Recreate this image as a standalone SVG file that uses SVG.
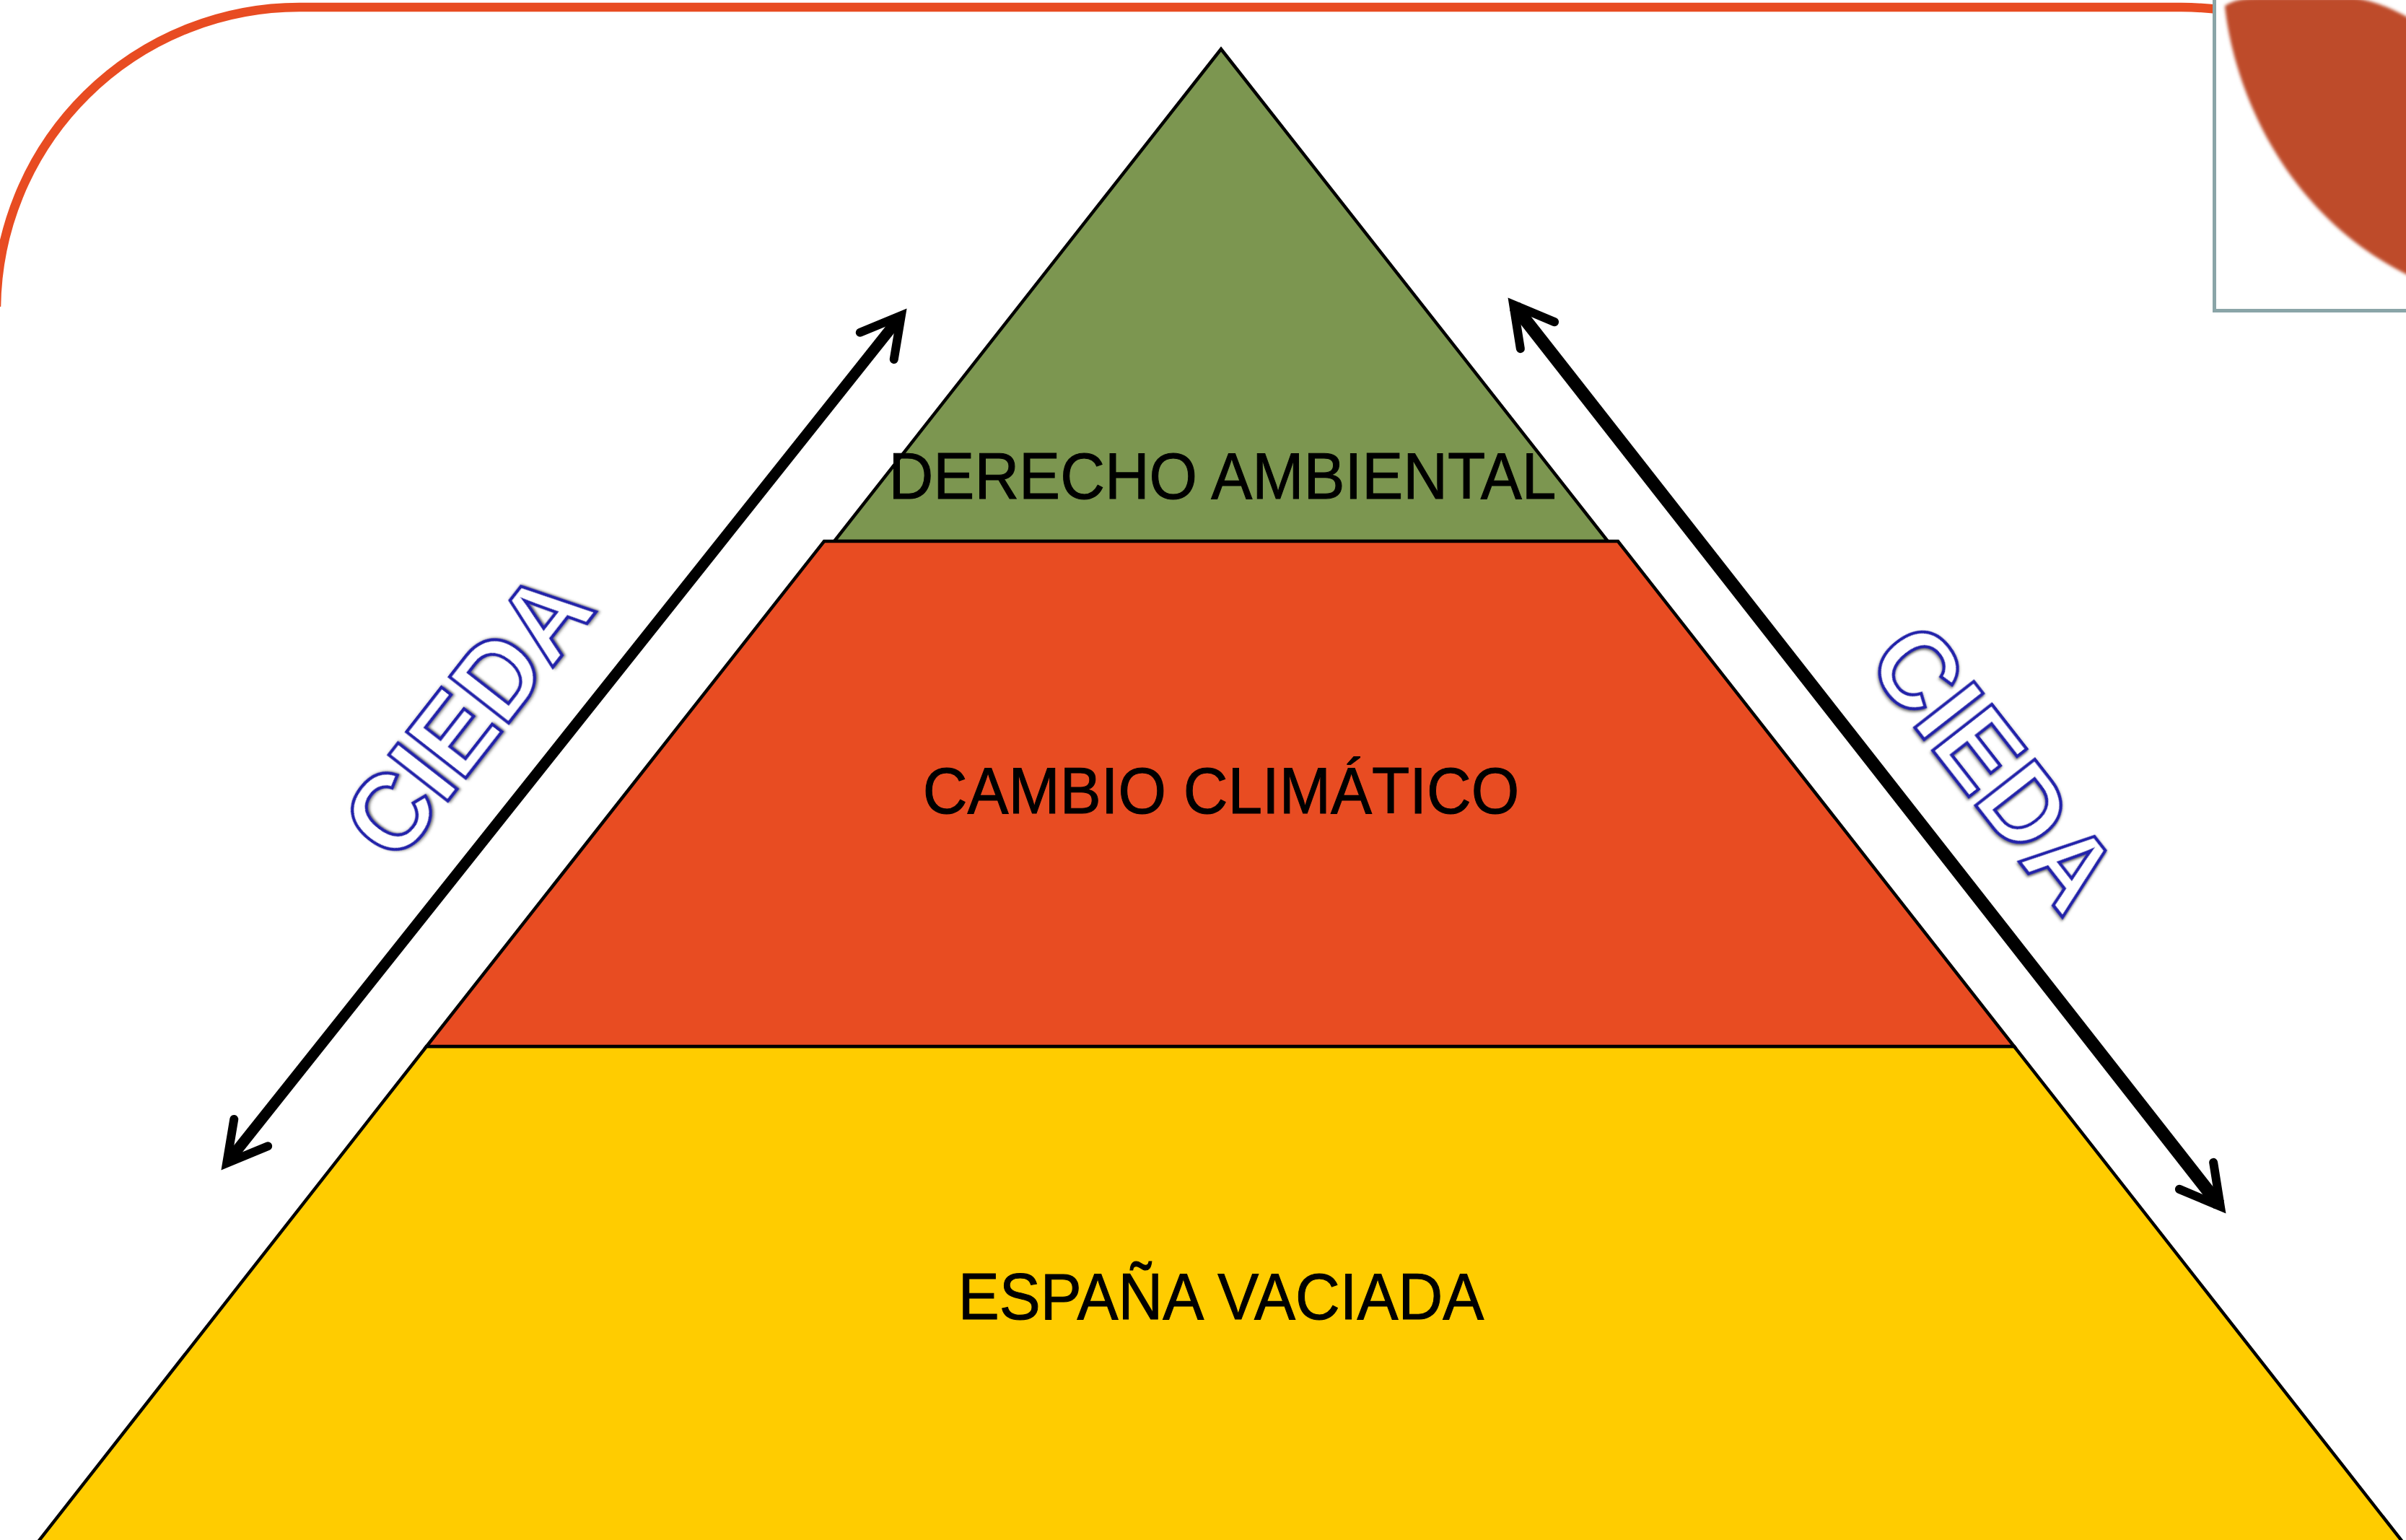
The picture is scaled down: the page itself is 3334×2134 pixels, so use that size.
<svg xmlns="http://www.w3.org/2000/svg" width="3334" height="2134" viewBox="0 0 3334 2134">
<style>
.tier{stroke:#000;stroke-width:4.5;stroke-linejoin:miter}
.label{font-family:"Liberation Sans",Arial,sans-serif;font-size:85.500px;fill:#000;stroke:#000;stroke-width:1;text-anchor:middle}
.cieda{font-family:"Liberation Sans",Arial,sans-serif;font-weight:bold;font-size:145px;fill:#fff;stroke:#2222AA;stroke-width:4.200;stroke-linejoin:miter;filter:url(#shadow)}
.arrow{fill:none;stroke:#000;stroke-linecap:butt;marker-start:url(#head);marker-end:url(#head)}
</style>
<defs>
<filter id="shadow" x="-10%" y="-10%" width="120%" height="120%"><feDropShadow dx="1.500" dy="1.500" stdDeviation="1.800" flood-color="#444" flood-opacity="0.85"/></filter>
<filter id="soft" x="-5%" y="-5%" width="110%" height="110%"><feGaussianBlur stdDeviation="2"/></filter>
<marker id="head" markerUnits="userSpaceOnUse" markerWidth="100" markerHeight="100" refX="0" refY="0" orient="auto-start-reverse" overflow="visible">
<path d="M-51 -30 L3 0 L-51 30" fill="none" stroke="#000" stroke-width="12" stroke-linecap="round" stroke-linejoin="miter" stroke-miterlimit="10"/>
</marker>
</defs>
<rect width="3334" height="2134" fill="#fff"/>
<path id="frame" d="M-5 425 A420 420 0 0 1 415 10 L3020 10 A410 410 0 0 1 3080 14" fill="none" stroke="#E84C22" stroke-width="12.500"/>
<g id="picture">
<rect x="3068.500" y="-10" width="280" height="440.500" fill="#fff" stroke="#8AA5A8" stroke-width="5"/>
<path d="M3083 8 C3092 100 3150 290 3340 383 L3340 26 Q3300 3 3263 -3 L3130 -3 Q3100 -3 3083 8Z" fill="#BE4B2A" filter="url(#soft)"/>
</g>
<g id="tier-espana">
<path class="tier" d="M591 1450 L2791 1450 L3332 2140 L50 2140Z" fill="#FFCC00"/>
<text class="label" transform="translate(1692 1828) scale(1 1.06)">ESPAÑA VACIADA</text>
</g>
<g id="tier-derecho">
<path class="tier" d="M1692 68 L2228 750 L1156 750Z" fill="#7C9650"/>
</g>
<g id="tier-cambio">
<path class="tier" d="M1142 750 L2242 750 L2791 1450 L591 1450Z" fill="#E84C22"/>
<text class="label" transform="translate(1692 1127) scale(1 1.06)">CAMBIO CLIMÁTICO</text>
</g>
<text id="label-derecho" class="label" transform="translate(1694 691) scale(1 1.06)">DERECHO AMBIENTAL</text>
<g id="connectors">
<line class="arrow" x1="316" y1="1609.500" x2="1247" y2="439.500" stroke-width="15"/>
<line class="arrow" x1="3075" y1="1669.500" x2="2099" y2="424.500" stroke-width="18"/>
</g>
<g id="cieda-left"><text class="cieda" transform="translate(550 1200) rotate(-52) scale(1 1.04)">CIEDA</text></g>
<g id="cieda-right"><text class="cieda" transform="translate(2583 918) rotate(52) scale(1 1.04)">CIEDA</text></g>
</svg>
